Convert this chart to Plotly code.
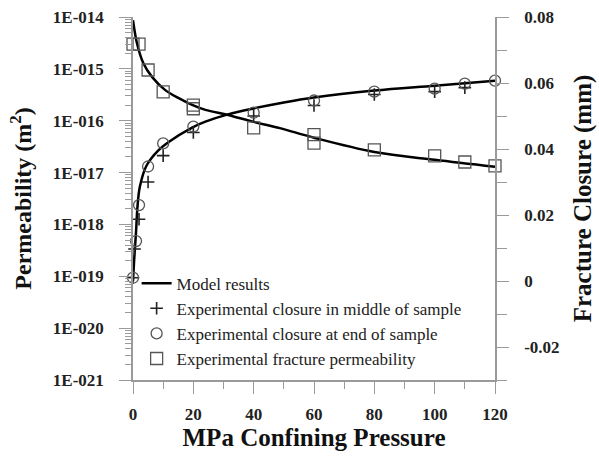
import plotly.graph_objects as go

# ---------------- data ----------------
# Model permeability curve (left axis, m^2)
model_perm_x = [0, 1.3, 3.4, 6.3, 10.6, 15, 19.6, 24, 31.5, 40, 48.7, 60, 80, 100, 120]
model_perm_y = [8.7e-15, 3.16e-15, 1.30e-15, 7.0e-16, 3.93e-16, 2.75e-16, 2.02e-16,
                1.62e-16, 1.29e-16, 9.5e-17, 7.2e-17, 4.7e-17, 2.5e-17, 1.76e-17, 1.29e-17]

# Model closure curve (right axis, mm)
model_clos_x = [0, 0.4, 1.0, 1.5, 2.3, 4.5, 8.4, 11.6, 19.6, 24, 31.5, 40, 50, 60, 80, 100, 120]
model_clos_y = [0.0, 0.0066, 0.0148, 0.0227, 0.0287, 0.035, 0.0396, 0.042, 0.0465, 0.0483,
                0.0505, 0.0523, 0.0541, 0.0556, 0.0577, 0.0592, 0.0607]

# Experimental closure in middle of sample (+)
mid_x = [0, 0.5, 2, 5, 10, 20, 40, 60, 80, 100, 110]
mid_y = [0.001, 0.0097, 0.0187, 0.030, 0.038, 0.045, 0.050, 0.0532, 0.0565, 0.0574, 0.0586]

# Experimental closure at end of sample (o)
end_x = [0, 1, 2, 5, 10, 20, 40, 60, 80, 100, 110, 120]
end_y = [0.001, 0.0121, 0.023, 0.0347, 0.0417, 0.0468, 0.051, 0.0547, 0.0574, 0.0583, 0.0598, 0.0607]

# Experimental fracture permeability (squares)
perm_x = [0, 2, 5, 10, 20, 20, 40, 60, 60, 80, 100, 110, 120]
perm_y = [3.0e-15, 3.0e-15, 9.5e-16, 3.6e-16, 2.0e-16, 1.7e-16, 7.3e-17, 5.4e-17,
          3.7e-17, 2.75e-17, 2.1e-17, 1.6e-17, 1.35e-17]

# tick labels
perm_tick_vals = [1e-21, 1e-20, 1e-19, 1e-18, 1e-17, 1e-16, 1e-15, 1e-14]
perm_tick_text = ["1E-021", "1E-020", "1E-019", "1E-018", "1E-017", "1E-016", "1E-015", "1E-014"]
clos_tick_vals = [-0.02, 0, 0.02, 0.04, 0.06, 0.08]
clos_tick_text = ["-0.02", "0", "0.02", "0.04", "0.06", "0.08"]

# ---------------- figure ----------------
SERIF = "Liberation Serif, Times New Roman, serif"
AX = "#9a9a9a"
MK = "#555555"

fig = go.Figure()

fig.add_trace(go.Scatter(x=model_perm_x, y=model_perm_y, mode="lines", name="Model results",
                         line=dict(color="black", width=2.5, shape="spline", smoothing=1.0),
                         yaxis="y", legendrank=1))
fig.add_trace(go.Scatter(x=model_clos_x, y=model_clos_y, mode="lines", name="Model results",
                         line=dict(color="black", width=2.5, shape="spline", smoothing=1.0),
                         yaxis="y2", showlegend=False))
fig.add_trace(go.Scatter(x=mid_x, y=mid_y, mode="markers",
                         name="Experimental closure in middle of sample",
                         marker=dict(symbol="cross-thin", size=9, line=dict(color="#222222", width=1.6)),
                         yaxis="y2", cliponaxis=False, legendrank=2))
fig.add_trace(go.Scatter(x=end_x, y=end_y, mode="markers",
                         name="Experimental closure at end of sample",
                         marker=dict(symbol="circle-open", size=11, color=MK, line=dict(width=1.3)),
                         yaxis="y2", cliponaxis=False, legendrank=3))
fig.add_trace(go.Scatter(x=perm_x, y=perm_y, mode="markers",
                         name="Experimental fracture permeability",
                         marker=dict(symbol="square-open", size=12, color=MK, line=dict(width=1.3)),
                         yaxis="y", cliponaxis=False, legendrank=4))

minor_log = [m * 10.0 ** e for e in range(-21, -14) for m in range(2, 10)]

fig.update_layout(
    width=599, height=458,
    margin=dict(l=133, r=104, t=17, b=78, autoexpand=False),
    paper_bgcolor="white", plot_bgcolor="white",
    font=dict(family=SERIF, color="#222222"),
    showlegend=True,
    legend=dict(x=0.01, y=0.315, xanchor="left", yanchor="top",
                bgcolor="rgba(0,0,0,0)", font=dict(family=SERIF, size=17, color="#222222"),
                tracegroupgap=0, itemwidth=30),
    xaxis=dict(range=[0, 120], tickvals=[0, 20, 40, 60, 80, 100, 120],
               showgrid=False, zeroline=False, showline=True, linecolor=AX, linewidth=1.5,
               ticks="outside", ticklen=12, tickcolor=AX, tickwidth=1.3,
               minor=dict(tickvals=[10, 30, 50, 70, 90, 110], ticks="outside", ticklen=7,
                          tickcolor=AX, tickwidth=1.3),
               tickfont=dict(family=SERIF, size=17, color="#222222", weight="bold"),
               ticklabelstandoff=6,
               title=dict(text="MPa Confining Pressure", standoff=4,
                          font=dict(family=SERIF, size=25, color="#111111", weight="bold"))),
    yaxis=dict(type="log", range=[-21, -14], tickvals=perm_tick_vals, ticktext=perm_tick_text,
               showgrid=False, zeroline=False, showline=True, linecolor=AX, linewidth=1.5,
               ticks="outside", ticklen=12, tickcolor=AX, tickwidth=1.3,
               minor=dict(tickvals=minor_log, ticks="outside", ticklen=6, tickcolor=AX, tickwidth=1),
               tickfont=dict(family=SERIF, size=17, color="#222222", weight="bold"),
               ticklabelstandoff=12,
               title=dict(text="Permeability (m<sup>2</sup>)", standoff=14,
                          font=dict(family=SERIF, size=24, color="#111111", weight="bold"))),
    yaxis2=dict(overlaying="y", side="right", range=[-0.03, 0.08],
                tickvals=clos_tick_vals, ticktext=clos_tick_text,
                showgrid=False, zeroline=False, showline=True, linecolor=AX, linewidth=1.5,
                ticks="outside", ticklen=12, tickcolor=AX, tickwidth=1.3,
                minor=dict(tickvals=[-0.03, -0.01, 0.01, 0.03, 0.05, 0.07], ticks="outside",
                           ticklen=10, tickcolor=AX, tickwidth=1.3),
                tickfont=dict(family=SERIF, size=17, color="#222222", weight="bold"),
                ticklabelstandoff=12,
                title=dict(text="Fracture Closure (mm)", standoff=15,
                           font=dict(family=SERIF, size=25, color="#111111", weight="bold"))),
)

fig.write_html("out.html", config={"displayModeBar": False},
               post_script="document.body.style.margin='0';document.body.style.overflow='hidden';")
